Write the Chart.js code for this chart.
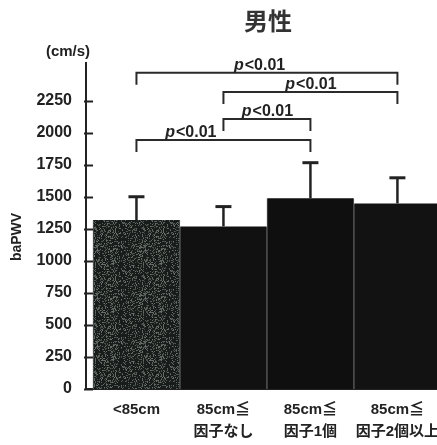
<!DOCTYPE html>
<html>
<head>
<meta charset="utf-8">
<script src="https://cdn.jsdelivr.net/npm/chart.js@4"></script>
<style>
  html, body { margin: 0; padding: 0; background: #ffffff; }
  #wrap { width: 437px; height: 445px; position: relative; }
</style>
</head>
<body>
<div id="wrap"><canvas id="c" width="437" height="445"></canvas></div>
<script>
// Categories (two-line tick labels), mean baPWV and SD
const categories = [
  ['<85cm', ''],
  ['85cm≦', '因子なし'],
  ['85cm≦', '因子1個'],
  ['85cm≦', '因子2個以上']
];
const meanValues = [1320, 1270, 1490, 1450];
const sdValues = [182, 155, 278, 200];
const yTicks = [0, 250, 500, 750, 1000, 1250, 1500, 1750, 2000, 2250];

// Significance brackets: between category indices, at a value level
const bracketFrom = [0, 1, 1, 0];
const bracketTo = [3, 3, 2, 2];
const bracketLevel = [2470, 2320, 2110, 1945];
const bracketText = ['p<0.01', 'p<0.01', 'p<0.01', 'p<0.01'];
const bracketLabelAt = [0.47, 0.5, 0.5, 0.31];

const INK = '#222222';
const SANS = "'Liberation Sans', Arial, 'Noto Sans CJK JP', sans-serif";

// speckled texture for the first bar
function speckle() {
  const s = 48;
  const cv = document.createElement('canvas');
  cv.width = s; cv.height = s;
  const g = cv.getContext('2d');
  g.fillStyle = '#181d1b';
  g.fillRect(0, 0, s, s);
  for (let y = 0; y < s; y++) {
    for (let x = 0; x < s; x++) {
      const h = Math.abs(Math.sin(x * 12.9898 + y * 78.233) * 43758.5453) % 1;
      if (h < 0.3) {
        const v = 62 + Math.floor(((h * 977) % 1) * 55);
        g.fillStyle = `rgb(${v - 4},${v + 4},${v})`;
        g.fillRect(x, y, 1, 1);
      }
    }
  }
  return g.createPattern(cv, 'repeat');
}

const ctx = document.getElementById('c').getContext('2d');
const barFills = [speckle(), '#111111', '#0f0f0f', '#121212'];

const annotate = {
  id: 'annotate',
  afterDatasetsDraw(chart) {
    const c = chart.ctx;
    const xs = chart.scales.x, ys = chart.scales.y;
    const area = chart.chartArea;
    c.save();

    // inward tick marks on the value axis
    c.strokeStyle = INK;
    c.lineWidth = 2;
    yTicks.forEach(v => {
      const py = Math.round(ys.getPixelForValue(v)) + 0.5;
      c.beginPath();
      c.moveTo(area.left - 2, py);
      c.lineTo(area.left + 7, py);
      c.stroke();
    });

    // error bars (mean + SD)
    meanValues.forEach((m, i) => {
      const px = xs.getPixelForValue(i);
      const y0 = ys.getPixelForValue(m);
      const y1 = ys.getPixelForValue(m + sdValues[i]);
      c.lineWidth = 2.5;
      c.beginPath();
      c.moveTo(px, y0);
      c.lineTo(px, y1);
      c.stroke();
      c.lineWidth = 3;
      c.beginPath();
      c.moveTo(px - 8, y1);
      c.lineTo(px + 8, y1);
      c.stroke();
    });

    // significance brackets
    c.lineWidth = 2;
    c.strokeStyle = '#2a2a2a';
    bracketLevel.forEach((lv, i) => {
      const x0 = xs.getPixelForValue(bracketFrom[i]);
      const x1 = xs.getPixelForValue(bracketTo[i]);
      const py = ys.getPixelForValue(lv);
      c.beginPath();
      c.moveTo(x0, py + 12);
      c.lineTo(x0, py);
      c.lineTo(x1, py);
      c.lineTo(x1, py + 12);
      c.stroke();
      // label: italic p followed by the rest
      const cx = x0 + (x1 - x0) * bracketLabelAt[i];
      const rest = bracketText[i].slice(1);
      c.font = "italic bold 16px " + SANS;
      const wp = c.measureText('p').width;
      c.font = "bold 16px " + SANS;
      const wr = c.measureText(rest).width;
      const left = cx - (wp + wr) / 2;
      c.fillStyle = INK;
      c.textBaseline = 'alphabetic';
      c.textAlign = 'left';
      c.font = "italic bold 16px " + SANS;
      c.fillText('p', left, py - 3);
      c.font = "bold 16px " + SANS;
      c.fillText(rest, left + wp + 1, py - 3);
    });

    // title, unit and axis name
    c.fillStyle = '#333333';
    c.textAlign = 'center';
    c.textBaseline = 'middle';
    c.font = "bold 24px 'Noto Sans CJK JP', sans-serif";
    c.fillText('男性', 268, 21);
    c.fillStyle = INK;
    c.font = "bold 15px " + SANS;
    c.fillText('(cm/s)', 68, 52);
    c.save();
    c.translate(17, 237);
    c.rotate(-Math.PI / 2);
    c.font = "bold 14px " + SANS;
    c.fillText('baPWV', 0, 0);
    c.restore();

    c.restore();
  }
};

new Chart(ctx, {
  type: 'bar',
  data: {
    datasets: [{
      data: meanValues.map((v, i) => ({ x: i, y: v })),
      backgroundColor: barFills,
      borderColor: '#5a5a5a',
      borderWidth: { left: 1, right: 1, top: 0, bottom: 0 },
      barPercentage: 1,
      categoryPercentage: 1
    }]
  },
  options: {
    responsive: false,
    animation: false,
    events: [],
    layout: { padding: { top: 62.6, right: 0, bottom: 0, left: 0 } },
    plugins: { legend: { display: false }, tooltip: { enabled: false }, title: { display: false } },
    scales: {
      x: {
        type: 'linear',
        offset: false,
        min: -0.58,
        max: 3.455,
        grid: { display: false, drawTicks: false },
        border: { display: true, color: INK, width: 2 },
        afterBuildTicks: s => { s.ticks = categories.map((_, i) => ({ value: i })); },
        afterFit: s => { s.height = 56; s.paddingLeft = 0; s.paddingRight = 0; },
        ticks: {
          autoSkip: false,
          maxRotation: 0,
          padding: 10,
          color: INK,
          font: { family: SANS, size: 15, weight: 'bold', lineHeight: 1.45 },
          callback: v => categories[v]
        }
      },
      y: {
        min: 0,
        max: 2550,
        grid: { display: false, drawTicks: false },
        border: { display: true, color: INK, width: 2 },
        afterBuildTicks: s => { s.ticks = yTicks.map(v => ({ value: v })); },
        afterFit: s => { s.width = 86; },
        ticks: {
          padding: 14,
          color: INK,
          font: { family: SANS, size: 16, weight: 'bold' },
          callback: v => String(v)
        }
      }
    }
  },
  plugins: [annotate]
});
</script>
</body>
</html>
